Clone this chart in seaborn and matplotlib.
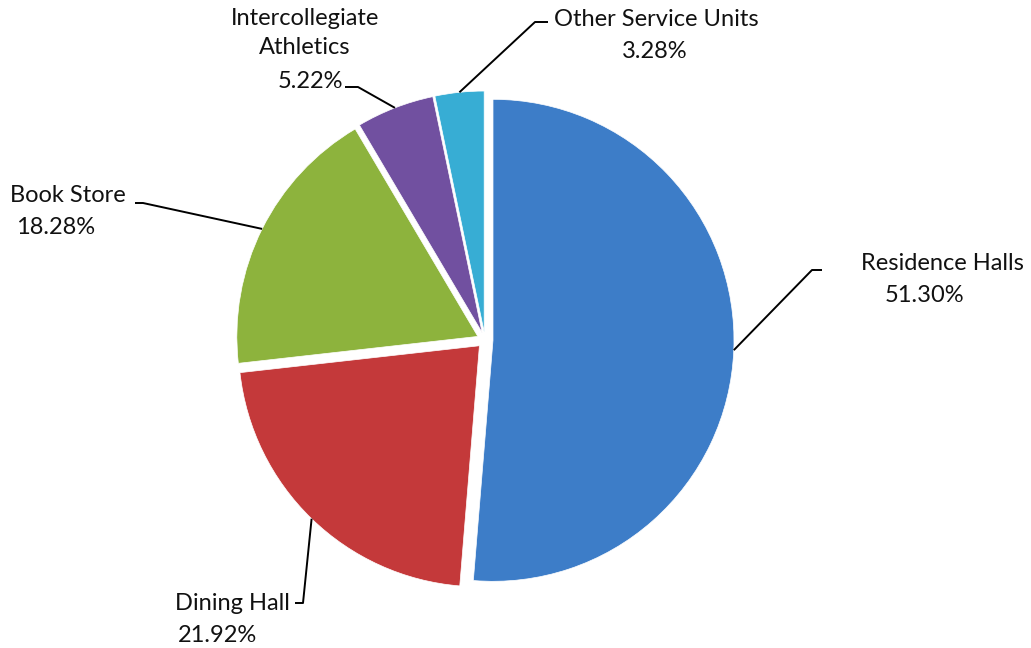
import numpy as np
import matplotlib
matplotlib.use("Agg")
import matplotlib.pyplot as plt
import seaborn as sns

# data
units = ["Residence Halls", "Dining Hall", "Book Store", "Intercollegiate\nAthletics", "Other Service Units"]
shares = [51.30, 21.92, 18.28, 5.22, 3.28]
colors = ["#3D7DC8", "#C4393A", "#8DB33D", "#7150A0", "#37ADD4"]

sns.set_theme(style="white")
plt.rcParams["font.family"] = ["Lato", "DejaVu Sans"]

W, H = 1031, 648
fig = plt.figure(figsize=(W / 100, H / 100), dpi=100)
ax = fig.add_axes([0, 0, 1, 1])

# pie in pixel-like coordinates (y up); explode is in the same units
cx, cy, r = 485, H - 340, 241
wedges, _ = ax.pie(shares, colors=colors, startangle=90, counterclock=False,
                   explode=[8] * len(shares), radius=r, center=(cx, cy),
                   frame=True, wedgeprops=dict(edgecolor="white", linewidth=0.5))
ax.set_xlim(0, W)
ax.set_ylim(0, H)
ax.set_aspect("equal")
ax.axis("off")

# label layout: elbow point of leader, tail of leader, text positions, alignment
layout = [
    dict(elbow=(812, 270), tail=(822, 270), name=(942, 263), pct=(925, 296), ha="center"),
    dict(elbow=(303, 603), tail=(295, 603), name=(175, 603), pct=(178, 636), ha="left"),
    dict(elbow=(143, 203), tail=(135, 203), name=(10, 195), pct=(16, 228), ha="left"),
    dict(elbow=(358, 87), tail=(345, 87), name=(305, 33), pct=(310, 82), ha="center"),
    dict(elbow=(535, 22), tail=(548, 22), name=(656, 19), pct=(655, 52), ha="center"),
]

for w, name, val, lay in zip(wedges, units, shares, layout):
    mid = np.deg2rad((w.theta1 + w.theta2) / 2)
    wx, wy = w.center
    anchor = (wx + w.r * np.cos(mid), wy + w.r * np.sin(mid))
    ex, ey = lay["elbow"][0], H - lay["elbow"][1]
    tx, ty = lay["tail"][0], H - lay["tail"][1]
    ax.plot([anchor[0], ex, tx], [anchor[1], ey, ty], color="black", lw=1.4,
            solid_capstyle="butt")
    ax.text(lay["name"][0], H - lay["name"][1], name, ha=lay["ha"], va="center",
            fontsize=17, color="#111111", linespacing=1.5, multialignment="center")
    ax.text(lay["pct"][0], H - lay["pct"][1], f"{val:.2f}%", ha=lay["ha"], va="center",
            fontsize=17, color="#111111")

fig.savefig("out.png", dpi=100)
